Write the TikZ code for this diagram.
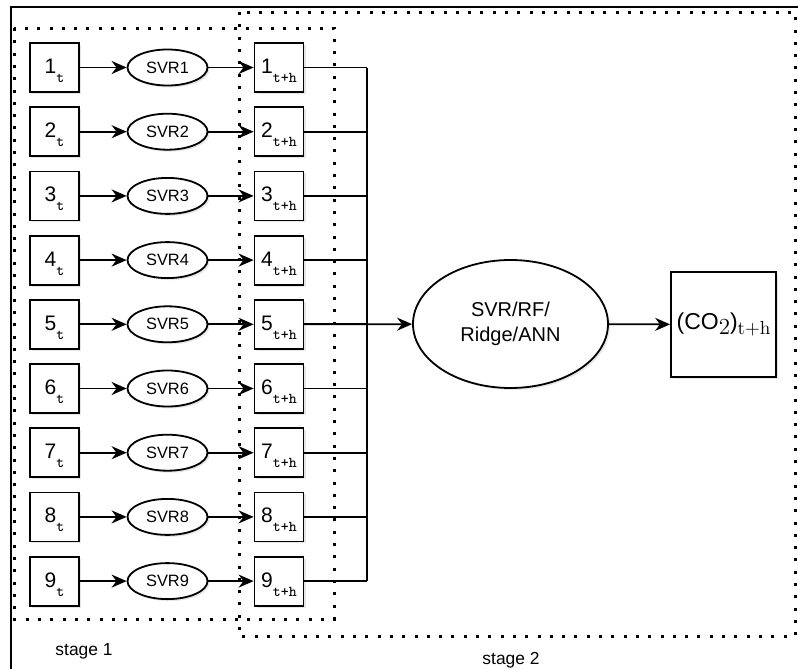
\documentclass[tikz,border=0pt]{standalone}
\usepackage{fontspec}
\setsansfont{Liberation Sans}
\usetikzlibrary{shapes.geometric, arrows.meta, shadows}

\newcommand{\lowsub}[1]{\raisebox{-4.5pt}{\ttfamily\fontsize{7.5}{8}\selectfont #1}}

\begin{document}
\begin{tikzpicture}[x=0.5pt, y=-0.5pt, line width=0.9pt,
    every node/.style={font=\sffamily},
    boxshadow/.style={drop shadow={shadow xshift=1pt, shadow yshift=-1pt, opacity=0.2}},
    inbox/.style={draw, fill=white, boxshadow, minimum width=24.5pt, minimum height=24.5pt, inner sep=0pt, text height=8pt, text depth=2pt, font=\sffamily\fontsize{10.5}{11}\selectfont},
    svrnode/.style={ellipse, draw, fill=white, boxshadow, minimum width=40pt, minimum height=18pt, inner sep=0pt, font=\sffamily\fontsize{8.2}{9}\selectfont},
    model/.style={ellipse, draw, fill=white, boxshadow, minimum width=97.5pt, minimum height=64pt, inner sep=0pt, align=center, font=\sffamily\fontsize{10}{12.5}\selectfont},
    result/.style={draw, fill=white, boxshadow, minimum width=52.5pt, minimum height=52.5pt, inner sep=0pt, font=\sffamily\fontsize{11.5}{13}\selectfont},
    stagebox/.style={line width=1.5pt, dash pattern=on 1.5pt off 4.65pt},
    link/.style={-{Stealth[length=7.5pt, width=6.5pt]}}]

    \useasboundingbox (0,0) rectangle (798,669);
    \draw[line width=1pt] (11,669) |- (798,7);

    \draw[stagebox] (14,28) rectangle (334,619);
    \draw[stagebox] (239,12) rectangle (795,636);
    \node (stage1) at (84,651) {\fontsize{8.7}{10}\selectfont stage 1};
    \node (stage2) at (511,660) {\fontsize{8.7}{10}\selectfont stage 2};

    \coordinate (bus) at (367,0);
    \foreach \i in {1,...,9} {
        \pgfmathsetmacro{\rowy}{67.5+(\i-1)*64.2}
        \node[inbox] (in\i) at (54.5,\rowy) {\i\lowsub{t}};
        \node[svrnode] (svr\i) at (167.5,\rowy) {SVR\i};
        \node[inbox] (out\i) at (279,\rowy) {\i\lowsub{t+h}};
        \draw[link] (in\i) -- (svr\i);
        \draw[link] (svr\i) -- (out\i);
        \draw (out\i.east) -- (out\i.east -| bus);
    }
    \draw (bus |- out1.east) -- (bus |- out9.east);

    \node[model] (model) at (510.5,324) {SVR/RF/\\Ridge/ANN};
    \node[result] (co2) at (723.5,324.5) {(CO{\rmfamily\raisebox{-2.5pt}{2}})\raisebox{-2.5pt}{\rmfamily\fontsize{9.5}{10}\selectfont t+h}};

    \draw[link] (out5.east) -- (model);
    \draw[link] (model) -- (co2);

\end{tikzpicture}
\end{document}
